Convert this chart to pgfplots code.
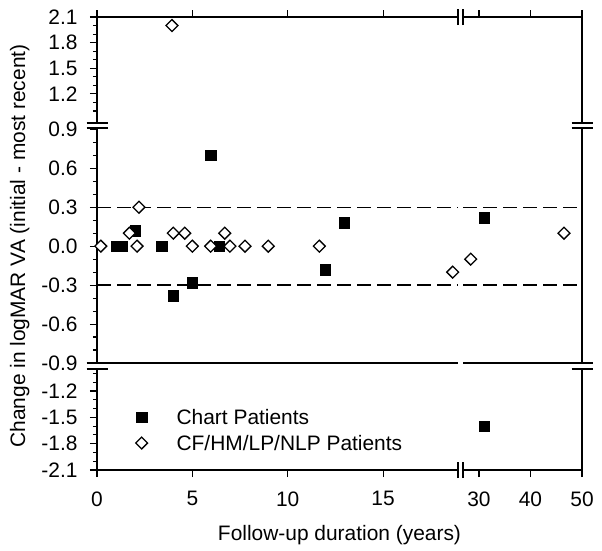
\documentclass[border=0pt]{standalone}
\usepackage{fontspec}
\setmainfont{Liberation Sans}
\usepackage{pgfplots}
\usepackage{pgfplotstable}
\pgfplotsset{compat=1.18}

% Chart patients (filled squares), split by axis segment
\pgfplotstableread{
x y
1.0 0
1.33 0
2.0 0.12
3.4 0
4.0 -0.38
5.0 -0.28
5.96 0.70
6.4 0
11.96 -0.18
12.97 0.18
}\chartML
\pgfplotstableread{
x y
31.0 0.22
}\chartMR
\pgfplotstableread{
x y
31.0 -1.60
}\chartLR
% CF/HM/LP/NLP patients (open diamonds)
\pgfplotstableread{
x y
3.93 2.0
}\cfUL
\pgfplotstableread{
x y
0.2 0
1.7 0.1
2.1 0
2.2 0.3
4.0 0.1
4.6 0.1
5.0 0
5.96 0
6.7 0.1
6.97 0
7.76 0
8.98 0
11.66 0
18.65 -0.2
}\cfML
\pgfplotstableread{
x y
28.4 -0.1
46.5 0.1
}\cfMR

\pgfplotsset{
  chartstyle/.style={only marks, mark=square*, mark size=5.3bp, black, mark options={fill=black}},
  cfstyle/.style={only marks, mark=square*, mark size=4.2bp, black, mark options={fill=white, rotate=45, line width=1.3bp}},
  refline/.style={black, line width=1.3bp, dash pattern=on 14bp off 6bp},
  brk/.style={
    scale only axis, clip=false,
    tick align=outside,
    major tick length=7bp, minor tick length=4bp,
    every tick/.style={black, line width=1.1bp},
    axis line style={black, line width=1.4bp, -},
    tick label style={font=\fontsize{21}{25}\selectfont},
    /pgf/number format/assume math mode=true,
    yticklabel style={xshift=-9bp, /pgf/number format/fixed, /pgf/number format/fixed zerofill, /pgf/number format/precision=1},
    xticklabel style={yshift=-11bp},
  },
  xleft/.style={xmin=0, xmax=18.93, width=361bp},
  xright/.style={xmin=26.9, xmax=50, width=119bp},
  yup/.style={ymin=0.86, ymax=2.1, height=106bp},
  ymid/.style={ymin=-0.9, ymax=0.91, height=235bp},
  ylow/.style={ymin=-2.1, ymax=-0.95, height=101bp},
}

\begin{document}
\begin{tikzpicture}[font=\fontsize{21}{25}\selectfont]
\useasboundingbox (0bp,0bp) rectangle (602bp,-551bp);

% upper left
\begin{axis}[brk, xleft, yup, name=ul, at={(97bp,-17bp)}, anchor=north west,
  axis x line*=top, axis y line*=left,
  xtick={0,5,10,15}, xtick pos=right, xticklabels={},
  ytick={1.2,1.5,1.8,2.1}, minor ytick={1.0,1.1,1.3,1.4,1.6,1.7,1.9,2.0}, ytick pos=left]
  \addplot[cfstyle] table {\cfUL};
\end{axis}
% upper right
\begin{axis}[brk, xright, yup, name=ur, at={(463bp,-17bp)}, anchor=north west,
  axis x line*=top, axis y line*=right,
  xtick={30,40,50}, xtick pos=right, xticklabels={}, ytick=\empty]
\end{axis}
% middle left
\begin{axis}[brk, xleft, ymid, name=ml, at={(97bp,-128bp)}, anchor=north west,
  axis x line*=none, axis y line*=left, xtick=\empty,
  ytick={-0.9,-0.6,-0.3,0,0.3,0.6,0.9},
  minor ytick={-0.8,-0.7,-0.5,-0.4,-0.2,-0.1,0.1,0.2,0.4,0.5,0.7,0.8}, ytick pos=left]
  \addplot[refline] coordinates {(0,0.3) (18.93,0.3)};
  \addplot[refline] coordinates {(0,-0.3) (18.93,-0.3)};
  \addplot[chartstyle] table {\chartML};
  \addplot[cfstyle] table {\cfML};
\end{axis}
% middle right
\begin{axis}[brk, xright, ymid, name=mr, at={(463bp,-128bp)}, anchor=north west,
  axis x line*=none, axis y line*=right, xtick=\empty, ytick=\empty]
  \addplot[refline] coordinates {(26.9,0.3) (50,0.3)};
  \addplot[refline] coordinates {(26.9,-0.3) (50,-0.3)};
  \addplot[chartstyle] table {\chartMR};
  \addplot[cfstyle] table {\cfMR};
\end{axis}
% lower left (with legend)
\begin{axis}[brk, xleft, ylow, name=ll, at={(97bp,-369bp)}, anchor=north west,
  axis x line*=bottom, axis y line*=left,
  xtick={0,5,10,15}, xtick pos=left,
  ytick={-2.1,-1.8,-1.5,-1.2}, minor ytick={-2.0,-1.9,-1.7,-1.6,-1.4,-1.3,-1.1,-1.0}, ytick pos=left,
  legend cell align=left,
  legend image code/.code={\draw[#1] plot coordinates {(0bp,0bp)};},
  legend style={at={(axis cs:2.02,-1.645)}, anchor=west, draw=none, fill=none, inner sep=0pt,
    /tikz/column sep=28bp, /tikz/row sep=1bp, font=\fontsize{21}{25}\selectfont,
    nodes={inner sep=1bp, text height=19bp, text depth=4bp}}]
  \addlegendimage{chartstyle}
  \addlegendentry{Chart Patients}
  \addlegendimage{cfstyle}
  \addlegendentry{CF/HM/LP/NLP Patients}
\end{axis}
% lower right
\begin{axis}[brk, xright, ylow, name=lr, at={(463bp,-369bp)}, anchor=north west,
  axis x line*=bottom, axis y line*=right,
  xtick={30,40,50}, xtick pos=left, ytick=\empty]
  \addplot[chartstyle] table {\chartLR};
\end{axis}

% axis break marks
\foreach \p in {ul.south west, ml.north west, ml.south west, ll.north west,
                ur.south east, mr.north east, mr.south east, lr.north east}
  \draw[line width=1.4bp] ([xshift=-10.5bp]\p) -- ([xshift=10.5bp]\p);
\foreach \p in {ul.north east, ur.north west, ll.south east, lr.south west}
  \draw[line width=1.4bp] ([yshift=-8bp]\p) -- ([yshift=8bp]\p);

% axis titles
\node[rotate=90, anchor=base] at (25bp,-246bp) {Change in logMAR VA (initial - most recent)};
\node[anchor=base] at (339.5bp,-540bp) {Follow-up duration (years)};
\end{tikzpicture}
\end{document}
